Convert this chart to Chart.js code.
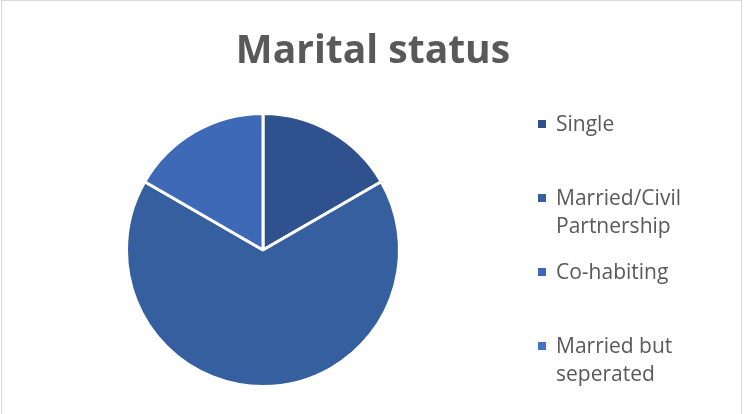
<!DOCTYPE html>
<html>
<head>
<meta charset="utf-8">
<script src="https://cdn.jsdelivr.net/npm/chart.js@4/dist/chart.umd.min.js"></script>
<style>
  html, body { margin: 0; padding: 0; background: #fff; overflow: hidden; }
  #wrap { position: relative; width: 744px; height: 414px; }
  #frame { position: absolute; left: 1px; top: 0px; width: 741px; height: 430px; border: 1px solid #D9D9D9; box-sizing: border-box; pointer-events: none; }
  canvas { position: absolute; left: 0; top: 0; }
</style>
</head>
<body>
<div id="wrap">
  <canvas id="c" width="744" height="414"></canvas>
  <div id="frame"></div>
</div>
<script>
const titleText = "Marital status";
const categories = ["Single", "Married/Civil Partnership", "Co-habiting", "Married but seperated"];
const legendLines = [["Single"], ["Married/Civil", "Partnership"], ["Co-habiting"], ["Married but", "seperated"]];
const values = [1, 4, 1, 0];
const colors = ["#2F528F", "#365FA0", "#3D69B6", "#4472C4"];

const FONT = '"Open Sans", "Liberation Sans", sans-serif';

const textPlugin = {
  id: 'textPlugin',
  afterDraw(chart) {
    const ctx = chart.ctx;
    ctx.save();
    // title
    ctx.font = 'bold 39px ' + FONT;
    ctx.fillStyle = '#595959';
    ctx.textAlign = 'center';
    ctx.textBaseline = 'alphabetic';
    ctx.fillText(titleText, 373, 63);
    // legend
    const x0 = 538, base0 = 131, slot = 74, lineH = 28;
    ctx.font = '21px ' + FONT;
    ctx.textAlign = 'left';
    const bg = chart.data.datasets[0].backgroundColor;
    legendLines.forEach((lines, i) => {
      const b = base0 + i * slot;
      ctx.fillStyle = bg[i];
      ctx.fillRect(x0, b - 11, 8, 8);
      ctx.fillStyle = '#595959';
      lines.forEach((t, j) => ctx.fillText(t, 556, b + j * lineH));
    });
    ctx.restore();
  }
};

new Chart(document.getElementById('c'), {
  type: 'pie',
  data: {
    labels: categories,
    datasets: [{
      data: values,
      backgroundColor: colors,
      borderColor: '#FFFFFF',
      borderWidth: 3
    }]
  },
  options: {
    responsive: false,
    animation: false,
    layout: { padding: { left: 125, right: 343, top: 112, bottom: 26 } },
    plugins: {
      legend: { display: false },
      tooltip: { enabled: false },
      title: { display: false }
    }
  },
  plugins: [textPlugin]
});
</script>
</body>
</html>
